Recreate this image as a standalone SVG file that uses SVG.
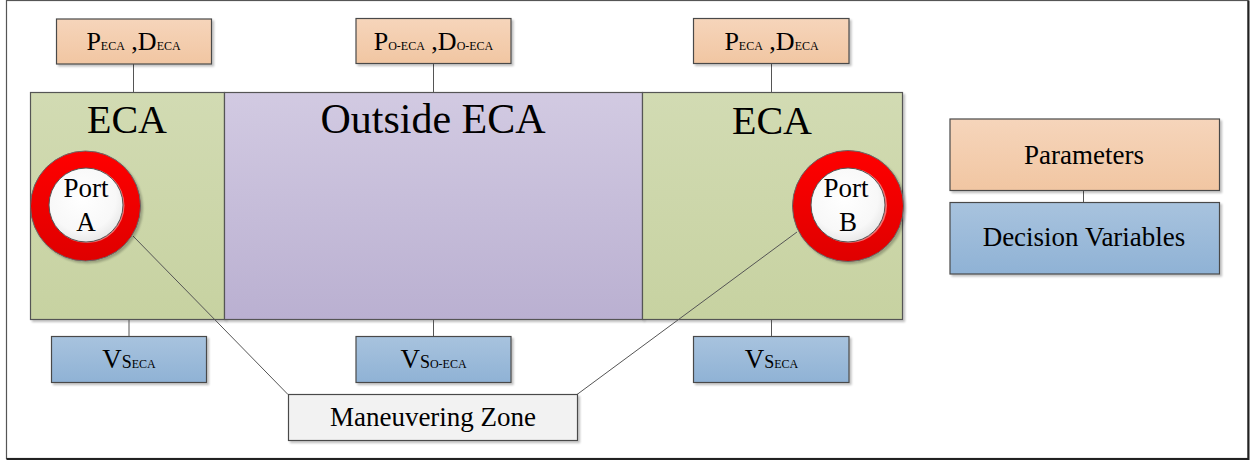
<svg xmlns="http://www.w3.org/2000/svg" width="1255" height="461" viewBox="0 0 1255 461">
  <defs>
    <linearGradient id="gOrange" x1="0" y1="0" x2="0" y2="1">
      <stop offset="0" stop-color="#f6d5bb"/>
      <stop offset="1" stop-color="#f1c6a2"/>
    </linearGradient>
    <linearGradient id="gBlue" x1="0" y1="0" x2="0" y2="1">
      <stop offset="0" stop-color="#a8c3de"/>
      <stop offset="1" stop-color="#8fb2d5"/>
    </linearGradient>
    <linearGradient id="gGreen" x1="0" y1="0" x2="0" y2="1">
      <stop offset="0" stop-color="#d2dbb3"/>
      <stop offset="1" stop-color="#c7d2a1"/>
    </linearGradient>
    <linearGradient id="gPurple" x1="0" y1="0" x2="0" y2="1">
      <stop offset="0" stop-color="#d2cae2"/>
      <stop offset="1" stop-color="#bab0d1"/>
    </linearGradient>
    <linearGradient id="gRed" x1="0" y1="0" x2="0" y2="1">
      <stop offset="0" stop-color="#ff0000"/>
      <stop offset="1" stop-color="#df0000"/>
    </linearGradient>
    <radialGradient id="gWhite" cx="0.45" cy="0.4" r="0.65">
      <stop offset="0" stop-color="#ffffff"/>
      <stop offset="0.7" stop-color="#f8f8f8"/>
      <stop offset="1" stop-color="#e4e4e4"/>
    </radialGradient>
    <filter id="shadow" x="-5%" y="-5%" width="115%" height="125%">
      <feGaussianBlur in="SourceAlpha" stdDeviation="1"/>
      <feOffset dx="2" dy="2" result="b"/>
      <feComponentTransfer><feFuncA type="linear" slope="0.25"/></feComponentTransfer>
      <feMerge><feMergeNode/><feMergeNode in="SourceGraphic"/></feMerge>
    </filter>
  </defs>
  <style>
    .box { stroke: #4a4a4a; stroke-width: 1.2; }
    .panel { stroke: #555; stroke-width: 1.2; }
    .link { stroke: #555; stroke-width: 1; fill: none; }
    .fs12 { font-size: 12px; }
    .fs18 { font-size: 18px; }
    .fs26 { font-size: 26px; }
  </style>

  <rect width="1255" height="461" fill="#ffffff"/>
  <!-- outer frame -->
  <rect x="6.5" y="0.5" width="1241.5" height="458" fill="none" stroke="#555" stroke-width="1.2"/>
  <path d="M6.5 459 H1248.5 V0.5" fill="none" stroke="#222" stroke-width="2"/>

  <!-- regions -->
  <g id="eca-left">
    <rect class="panel" x="30.5" y="92.5" width="194" height="227" fill="url(#gGreen)" filter="url(#shadow)"/>
    <text x="127" y="133" font-family="Liberation Serif" font-size="40" text-anchor="middle">ECA</text>
  </g>
  <g id="outside-eca">
    <rect class="panel" x="224.5" y="92.5" width="418" height="227" fill="url(#gPurple)" filter="url(#shadow)"/>
    <text x="433" y="133" font-family="Liberation Serif" font-size="42" text-anchor="middle">Outside ECA</text>
  </g>
  <g id="eca-right">
    <rect class="panel" x="642.5" y="92.5" width="260" height="227" fill="url(#gGreen)" filter="url(#shadow)"/>
    <text x="772" y="134" font-family="Liberation Serif" font-size="40" text-anchor="middle">ECA</text>
  </g>

  <!-- connectors -->
  <g id="connectors">
    <line class="link" x1="133.5" y1="64" x2="133.5" y2="92"/>
    <line class="link" x1="433.5" y1="64" x2="433.5" y2="92"/>
    <line class="link" x1="771.5" y1="64" x2="771.5" y2="92"/>
    <line class="link" x1="129" y1="320" x2="129" y2="336"/>
    <line class="link" x1="433.5" y1="320" x2="433.5" y2="336"/>
    <line class="link" x1="771.5" y1="320" x2="771.5" y2="336"/>
    <line class="link" x1="1083.5" y1="190.5" x2="1083.5" y2="202"/>
    <line class="link" x1="133" y1="236" x2="288" y2="394.5"/>
    <line class="link" x1="797" y1="232" x2="577" y2="394.5"/>
  </g>

  <!-- ports -->
  <g id="port-a">
    <circle cx="85.5" cy="206" r="55" fill="url(#gRed)" stroke="#666" stroke-width="1" filter="url(#shadow)"/>
    <circle cx="87" cy="205.5" r="37.5" fill="#f3a3a3" opacity="0.7"/>
    <circle cx="86" cy="205" r="37" fill="url(#gWhite)" stroke="#555" stroke-width="1"/>
    <text x="86" y="197" font-family="Liberation Serif" font-size="27" text-anchor="middle">Port</text>
    <text x="86" y="231" font-family="Liberation Serif" font-size="27" text-anchor="middle">A</text>
  </g>
  <g id="port-b">
    <circle cx="848" cy="206" r="55.5" fill="url(#gRed)" stroke="#666" stroke-width="1" filter="url(#shadow)"/>
    <circle cx="849.5" cy="205.5" r="37.5" fill="#f3a3a3" opacity="0.7"/>
    <circle cx="848" cy="205" r="37" fill="url(#gWhite)" stroke="#555" stroke-width="1"/>
    <text x="846" y="197" font-family="Liberation Serif" font-size="27" text-anchor="middle">Port</text>
    <text x="848" y="231" font-family="Liberation Serif" font-size="27" text-anchor="middle">B</text>
  </g>

  <!-- parameter boxes -->
  <g id="param-left">
    <rect class="box" x="56.5" y="19" width="155" height="45" fill="url(#gOrange)" filter="url(#shadow)"/>
    <text x="133.5" y="50" text-anchor="middle" font-family="Liberation Serif"><tspan class="fs26">P</tspan><tspan class="fs12">ECA</tspan><tspan class="fs26"> ,D</tspan><tspan class="fs12">ECA</tspan></text>
  </g>
  <g id="param-mid">
    <rect class="box" x="356" y="18.5" width="155" height="45" fill="url(#gOrange)" filter="url(#shadow)"/>
    <text x="433.5" y="50" text-anchor="middle" font-family="Liberation Serif"><tspan class="fs26">P</tspan><tspan class="fs12">O-ECA</tspan><tspan class="fs26"> ,D</tspan><tspan class="fs12">O-ECA</tspan></text>
  </g>
  <g id="param-right">
    <rect class="box" x="693.5" y="18.5" width="155.5" height="45" fill="url(#gOrange)" filter="url(#shadow)"/>
    <text x="771.5" y="50" text-anchor="middle" font-family="Liberation Serif"><tspan class="fs26">P</tspan><tspan class="fs12">ECA</tspan><tspan class="fs26"> ,D</tspan><tspan class="fs12">ECA</tspan></text>
  </g>

  <!-- speed variables -->
  <g id="speed-left">
    <rect class="box" x="51.5" y="336.5" width="155" height="46" fill="url(#gBlue)" filter="url(#shadow)"/>
    <text x="129" y="367.5" text-anchor="middle" font-family="Liberation Serif"><tspan font-size="27">V</tspan><tspan class="fs18">S</tspan><tspan class="fs12">ECA</tspan></text>
  </g>
  <g id="speed-mid">
    <rect class="box" x="356" y="336.5" width="155" height="46" fill="url(#gBlue)" filter="url(#shadow)"/>
    <text x="433.5" y="367.5" text-anchor="middle" font-family="Liberation Serif"><tspan font-size="27">V</tspan><tspan class="fs18">S</tspan><tspan class="fs12">O-ECA</tspan></text>
  </g>
  <g id="speed-right">
    <rect class="box" x="693.5" y="336.5" width="155.5" height="46" fill="url(#gBlue)" filter="url(#shadow)"/>
    <text x="771.5" y="367.5" text-anchor="middle" font-family="Liberation Serif"><tspan font-size="27">V</tspan><tspan class="fs18">S</tspan><tspan class="fs12">ECA</tspan></text>
  </g>

  <!-- maneuvering zone -->
  <g id="maneuvering-zone">
    <rect class="box" x="288.5" y="394.5" width="289" height="46" fill="#f2f2f2" filter="url(#shadow)"/>
    <text x="433" y="426" font-family="Liberation Serif" font-size="27" text-anchor="middle">Maneuvering Zone</text>
  </g>

  <!-- legend -->
  <g id="legend-parameters">
    <rect class="box" x="950" y="119" width="269.5" height="71.5" fill="url(#gOrange)" filter="url(#shadow)"/>
    <text x="1084" y="163.5" font-family="Liberation Serif" font-size="27" text-anchor="middle">Parameters</text>
  </g>
  <g id="legend-decision-variables">
    <rect class="box" x="950" y="202.5" width="269.5" height="71.5" fill="url(#gBlue)" filter="url(#shadow)"/>
    <text x="1084" y="246" font-family="Liberation Serif" font-size="27" text-anchor="middle">Decision Variables</text>
  </g>
</svg>
